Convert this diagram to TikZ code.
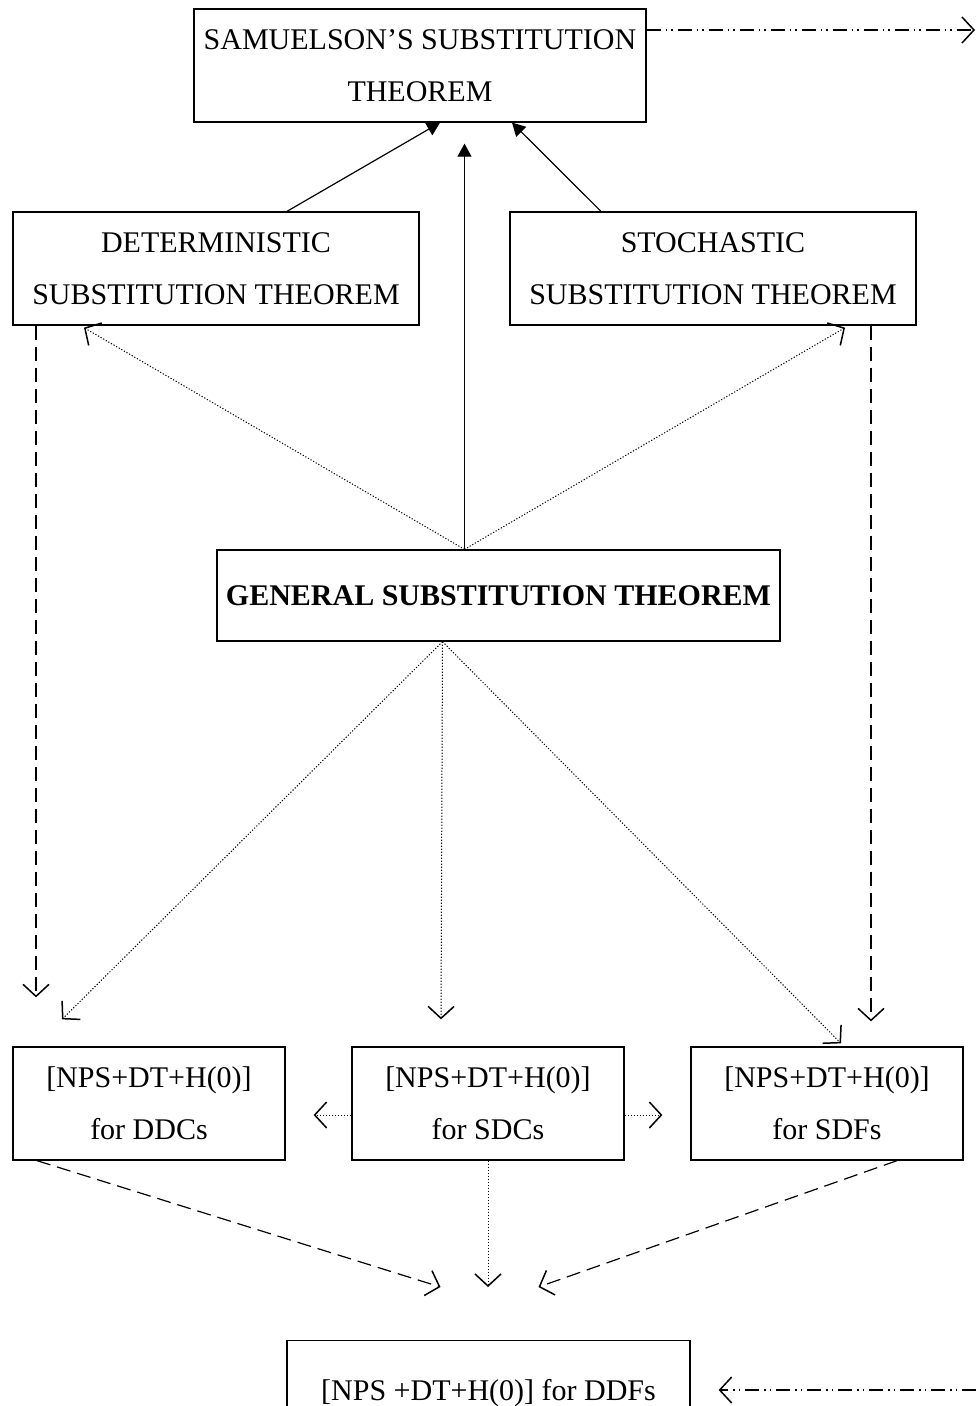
\documentclass[tikz,border=0pt]{standalone}
\usepackage{fontspec}
\setmainfont{Liberation Serif}
\usepackage{tikz}
\usetikzlibrary{arrows.meta}
\tikzset{
    thm-box/.style = {draw=black, fill=white, line width=1.3pt, rectangle, inner sep=0pt, align=center, font=\fontsize{30}{52}\selectfont},
    solid-arrow/.style = {line width=1.2pt, -{Triangle[length=13pt,width=14pt]}},
    dotted-arrow/.style = {line width=1pt, dash pattern=on 1.2pt off 1.8pt, -{Straight Barb[length=12pt,width=26pt,line width=1.5pt]}},
    dashed-arrow/.style = {line width=1.2pt, dash pattern=on 14pt off 7pt, -{Straight Barb[length=12pt,width=26pt,line width=1.5pt]}},
    dashdot-arrow/.style = {line width=1.2pt, dash pattern=on 14pt off 5pt on 1.5pt off 4pt on 1.5pt off 5pt, -{Straight Barb[length=12pt,width=26pt,line width=1.5pt]}},
}
\begin{document}
\begin{tikzpicture}[x=1pt,y=-1pt]
\useasboundingbox (0,0) rectangle (976,1406);
\node [thm-box, minimum width=452pt, minimum height=113pt] (samuel) at (420,65.5) {SAMUELSON’S SUBSTITUTION\\THEOREM};
\node [thm-box, minimum width=406pt, minimum height=113pt] (det) at (216,268.5) {DETERMINISTIC\\SUBSTITUTION THEOREM};
\node [thm-box, minimum width=406pt, minimum height=113pt] (sto) at (713,268.5) {STOCHASTIC\\SUBSTITUTION THEOREM};
\node [thm-box, minimum width=563pt, minimum height=91pt] (gen) at (498.5,595.5) {\textbf{GENERAL SUBSTITUTION THEOREM}};
\node [thm-box, minimum width=272pt, minimum height=113pt] (ddc) at (149,1103.5) {[NPS+DT+H(0)]\\for DDCs};
\node [thm-box, minimum width=272pt, minimum height=113pt] (sdc) at (488,1103.5) {[NPS+DT+H(0)]\\for SDCs};
\node [thm-box, minimum width=272pt, minimum height=113pt] (sdf) at (827,1103.5) {[NPS+DT+H(0)]\\for SDFs};
\node [thm-box, minimum width=403pt, minimum height=104pt, anchor=north] (ddf) at (488.5,1340) {[NPS +DT+H(0)] for DDFs};
\coordinate (out-right) at (975,30);
\coordinate (in-right) at (976,1390);

\draw [dashdot-arrow] ([yshift=35.5pt]samuel.east) -- (out-right);
\draw [dashdot-arrow, shorten >=28pt] (in-right) -- (in-right -| ddf.east);

\draw [solid-arrow] ([xshift=71pt]det.north) -- ([xshift=20pt]samuel.south);
\draw [solid-arrow] ([xshift=-112pt]sto.north) -- ([xshift=92pt]samuel.south);
\draw [solid-arrow, shorten >=21pt] ([xshift=-34pt]gen.north) -- ([xshift=44.5pt]samuel.south);

\draw [dotted-arrow] ([xshift=-34pt]gen.north) -- ([xshift=-132pt,yshift=-2pt]det.south);
\draw [dotted-arrow] ([xshift=-34pt]gen.north) -- ([xshift=132pt,yshift=-2pt]sto.south);

\draw [dashed-arrow, shorten >=49pt] ([xshift=-180pt]det.south) -- ([xshift=-113pt]ddc.north);
\draw [dashed-arrow, shorten >=25pt] ([xshift=158pt]sto.south) -- ([xshift=44pt]sdf.north);

\draw [dotted-arrow] ([xshift=-56pt]gen.south) -- ([xshift=-87pt,yshift=27pt]ddc.north);
\draw [dotted-arrow] ([xshift=-56pt]gen.south) -- ([xshift=-47pt,yshift=27pt]sdc.north);
\draw [dotted-arrow] ([xshift=-56pt]gen.south) -- ([xshift=14pt,yshift=3pt]sdf.north);

\draw [dotted-arrow, shorten >=28pt] ([yshift=-11.5pt]sdc.west) -- ([yshift=-11.5pt]ddc.east);
\draw [dotted-arrow, shorten >=28pt] ([yshift=-11.5pt]sdc.east) -- ([yshift=-11.5pt]sdf.west);

\draw [dashed-arrow] ([xshift=-112pt]ddc.south) -- ([xshift=-48pt,yshift=53pt]ddf.north);
\draw [dashed-arrow] ([xshift=70pt]sdf.south) -- ([xshift=50pt,yshift=53pt]ddf.north);
\draw [dotted-arrow] (sdc.south) -- ([xshift=-0.5pt,yshift=53pt]ddf.north);
\end{tikzpicture}
\end{document}
